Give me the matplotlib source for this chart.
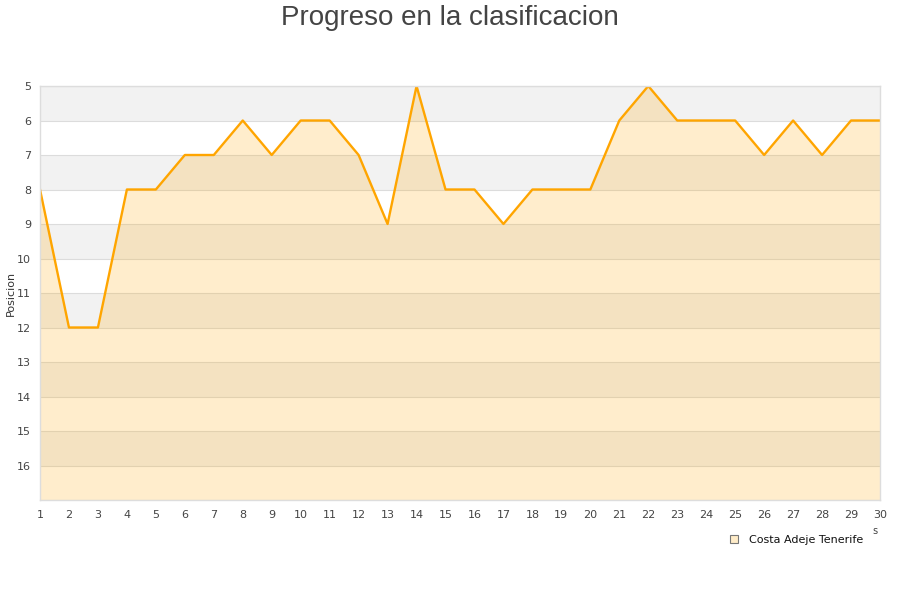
import matplotlib
matplotlib.use("Agg")
import matplotlib.pyplot as plt
from matplotlib.patches import Patch

jornadas = list(range(1, 31))
posicion = [8, 12, 12, 8, 8, 7, 7, 6, 7, 6, 6, 7, 9, 5, 8, 8, 9, 8, 8, 8,
            6, 5, 6, 6, 6, 7, 6, 7, 6, 6]
team = "Costa Adeje Tenerife"
title = "Progreso en la clasificacion"
ylabel = "Posicion"
yticks = list(range(5, 17))

fig = plt.figure(figsize=(9, 6), dpi=100)
ax = fig.add_axes([40/900, 1-500/600, 840/900, 414/600])

# alternating bands
for y0 in range(5, 17):
    color = "#f2f2f2" if (y0 % 2 == 1) else "#ffffff"
    ax.axhspan(y0, y0 + 1, color=color, zorder=0, lw=0)
for y0 in range(5, 18):
    ax.axhline(y0, color="#dcdcdc", lw=0.8, zorder=0.5)

ax.fill_between(jornadas, posicion, 17, color="#ffa500", alpha=0.2, lw=0, zorder=1)
ax.plot(jornadas, posicion, color="#ffa500", lw=1.7, zorder=2)

ax.set_xlim(1, 30)
ax.set_ylim(17, 5)
ax.set_xticks(jornadas)
ax.set_yticks(yticks)
ax.tick_params(axis="x", length=0, labelsize=8, colors="#444444", pad=7)
ax.tick_params(axis="y", length=0, labelsize=8, colors="#444444", pad=6.5)
for sp in ax.spines.values():
    sp.set_color("#dddddd")
    sp.set_linewidth(1)
ax.set_ylabel(ylabel, fontsize=8, color="#333333")
ax.yaxis.set_label_coords(-24/840, 0.5)

fig.text(0.5, 1-18/600, title, ha="center", va="center", fontsize=20,
         color="#444444", family="Liberation Sans")
fig.text(875/900, 1-531/600, "s", ha="center", va="center", fontsize=7, color="#444444")

handles = [Patch(facecolor="#ffecc8", edgecolor="#777777", lw=0.8, label=team)]
leg = fig.legend(handles=handles, loc="center right", bbox_to_anchor=(873/900, 1-540/600),
                 frameon=False, fontsize=8, handlelength=0.7, handleheight=0.7,
                 handletextpad=1.0)
for t in leg.get_texts():
    t.set_color("#111111")

fig.savefig("out.png", dpi=100)
